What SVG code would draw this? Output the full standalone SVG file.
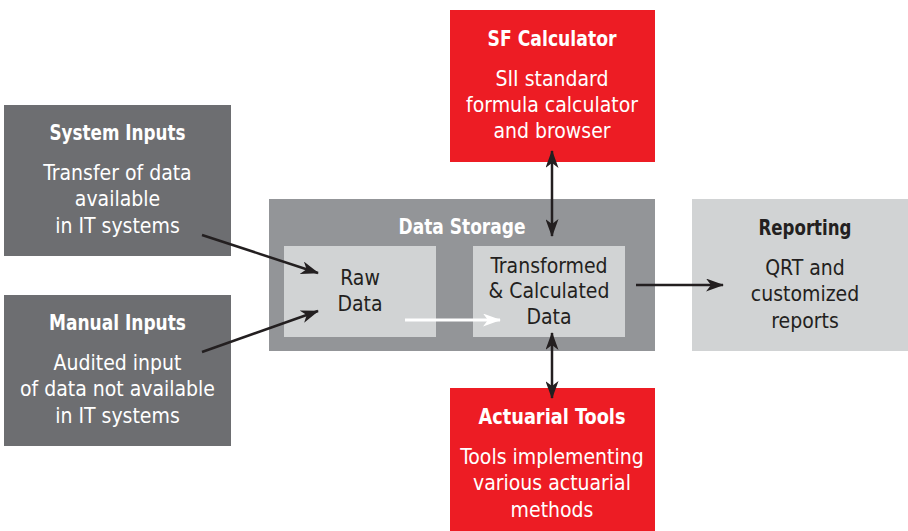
<svg xmlns="http://www.w3.org/2000/svg" width="908" height="531" viewBox="0 0 908 531">
<defs>
<marker id="ah" viewBox="0 0 18 13" refX="17" refY="6.5" markerWidth="18" markerHeight="13" markerUnits="userSpaceOnUse" orient="auto-start-reverse">
<path d="M0,0 L18,6.5 L0,13 L5,6.5 Z" fill="#231F20"/>
</marker>
<marker id="ahw" viewBox="0 0 18 13" refX="17" refY="6.5" markerWidth="18" markerHeight="13" markerUnits="userSpaceOnUse" orient="auto">
<path d="M0,0 L18,6.5 L0,13 L5,6.5 Z" fill="#FFFFFF"/>
</marker>
</defs>
<style>
text{font-family:"Liberation Sans Narrow","DejaVu Sans Condensed","Liberation Sans",sans-serif;text-anchor:middle}
.t{font-weight:bold;font-size:21px}
.b{font-size:21px}
.w{fill:#FFFFFF}
.k{fill:#231F20}
.dark{fill:#6D6E71}
.mid{fill:#939598}
.light{fill:#D1D3D4}
.red{fill:#ED1C24}
.c{stroke:#231F20;stroke-width:2.5;fill:none}
</style>
<rect width="908" height="531" fill="#FFFFFF"/>
<g id="system-inputs">
<rect class="dark" x="4" y="105" width="227" height="151"/>
<text class="t w" x="117.5" y="140" textLength="136" lengthAdjust="spacingAndGlyphs">System Inputs</text>
<text class="b w" x="117.5" y="180">Transfer of data</text>
<text class="b w" x="117.5" y="206">available</text>
<text class="b w" x="117.5" y="233">in IT systems</text>
</g>
<g id="manual-inputs">
<rect class="dark" x="4" y="295" width="227" height="151"/>
<text class="t w" x="117.5" y="330" textLength="137" lengthAdjust="spacingAndGlyphs">Manual Inputs</text>
<text class="b w" x="117.5" y="370">Audited input</text>
<text class="b w" x="117.5" y="396">of data not available</text>
<text class="b w" x="117.5" y="423">in IT systems</text>
</g>
<g id="data-storage">
<rect class="mid" x="269" y="199" width="386" height="152"/>
<text class="t w" x="462" y="234" textLength="127" lengthAdjust="spacingAndGlyphs">Data Storage</text>
</g>
<g id="raw-data">
<rect class="light" x="284" y="246" width="152" height="91"/>
<text class="b k" x="360" y="285">Raw</text>
<text class="b k" x="360" y="311">Data</text>
</g>
<g id="transformed-data">
<rect class="light" x="473" y="246" width="152" height="91"/>
<text class="b k" x="549" y="273">Transformed</text>
<text class="b k" x="549" y="298">&amp; Calculated</text>
<text class="b k" x="549" y="324">Data</text>
</g>
<g id="sf-calculator">
<rect class="red" x="450" y="10" width="205" height="152"/>
<text class="t w" x="552" y="46" textLength="129" lengthAdjust="spacingAndGlyphs">SF Calculator</text>
<text class="b w" x="552" y="86">SII standard</text>
<text class="b w" x="552" y="112">formula calculator</text>
<text class="b w" x="552" y="138">and browser</text>
</g>
<g id="reporting">
<rect class="light" x="692" y="199" width="216" height="152"/>
<text class="t k" x="805" y="235" textLength="93" lengthAdjust="spacingAndGlyphs">Reporting</text>
<text class="b k" x="805" y="275">QRT and</text>
<text class="b k" x="805" y="301">customized</text>
<text class="b k" x="805" y="328">reports</text>
</g>
<g id="actuarial-tools">
<rect class="red" x="450" y="388" width="205" height="143"/>
<text class="t w" x="552" y="424" textLength="147" lengthAdjust="spacingAndGlyphs">Actuarial Tools</text>
<text class="b w" x="552" y="464">Tools implementing</text>
<text class="b w" x="552" y="490">various actuarial</text>
<text class="b w" x="552" y="517">methods</text>
</g>
<g id="connectors">
<line class="c" x1="202" y1="235" x2="318" y2="273" marker-end="url(#ah)"/>
<line class="c" x1="202" y1="352" x2="318" y2="311" marker-end="url(#ah)"/>
<line x1="405" y1="320" x2="500" y2="320" stroke="#FFFFFF" stroke-width="3" marker-end="url(#ahw)"/>
<line class="c" x1="552" y1="151" x2="552" y2="236" marker-start="url(#ah)" marker-end="url(#ah)"/>
<line class="c" x1="552" y1="333" x2="552" y2="398" marker-start="url(#ah)" marker-end="url(#ah)"/>
<line class="c" x1="636" y1="285" x2="723" y2="285" marker-end="url(#ah)"/>
</g>
</svg>
